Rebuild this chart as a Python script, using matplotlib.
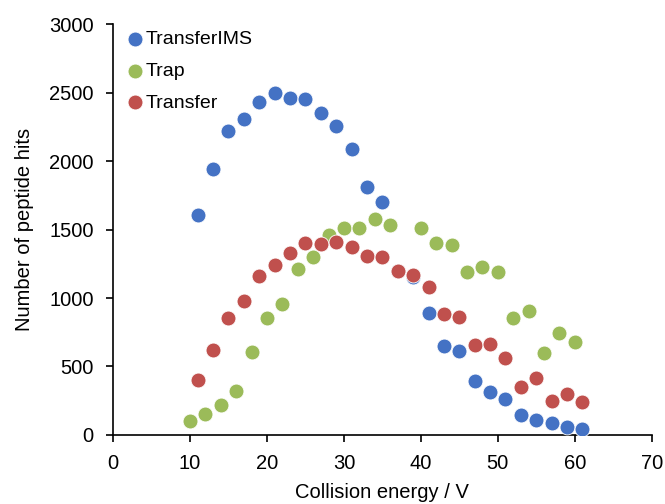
import matplotlib
matplotlib.use('Agg')
import matplotlib.pyplot as plt

plt.rcParams['font.family'] = ['Liberation Sans', 'DejaVu Sans']

# collision energy (V)
x_odd = [11, 13, 15, 17, 19, 21, 23, 25, 27, 29, 31, 33, 35,
         37, 39, 41, 43, 45, 47, 49, 51, 53, 55, 57, 59, 61]
x_trap = [10, 12, 14, 16, 18, 20, 22, 24, 26, 28, 30, 32, 34, 36,
          40, 42, 44, 46, 48, 50, 52, 54, 56, 58, 60]

transfer_ims = [1610, 1940, 2220, 2310, 2430, 2500, 2460, 2450, 2350, 2260, 2090, 1810, 1700,
                1200, 1150, 890, 650, 610, 395, 315, 262, 148, 110, 88, 60, 44]
trap = [100, 155, 220, 320, 605, 855, 955, 1210, 1300, 1460, 1510, 1510, 1575, 1530,
        1510, 1400, 1390, 1190, 1225, 1190, 855, 905, 600, 745, 680]
transfer = [400, 620, 855, 980, 1160, 1240, 1330, 1400, 1395, 1410, 1375, 1305, 1300,
            1195, 1170, 1080, 885, 860, 660, 665, 565, 350, 415, 250, 300, 240]

fig = plt.figure(figsize=(6.65, 5.04), dpi=100)
ax = fig.add_axes([0.17, 0.137, 0.81, 0.815])

ms = 115
ax.scatter(x_odd, transfer_ims, s=ms, c='#4472C4', edgecolors='white', linewidths=0.6, label='TransferIMS', zorder=3)
ax.scatter(x_trap, trap, s=ms, c='#9BBB59', edgecolors='white', linewidths=0.6, label='Trap', zorder=3)
ax.scatter(x_odd, transfer, s=ms, c='#C0504D', edgecolors='white', linewidths=0.6, label='Transfer', zorder=3)

ax.set_xlim(0, 70)
ax.set_ylim(0, 3000)
ax.set_xticks(range(0, 71, 10))
ax.set_yticks(range(0, 3001, 500))
ax.tick_params(labelsize=14.5, direction='out', length=5, width=1.2, colors='black')
ax.tick_params(axis='y', pad=9)
ax.tick_params(axis='x', pad=9)
ax.spines['top'].set_visible(False)
ax.spines['right'].set_visible(False)
ax.spines['left'].set_linewidth(1.2)
ax.spines['bottom'].set_linewidth(1.2)

ax.set_xlabel('Collision energy / V', fontsize=14.5, labelpad=7)
ax.set_ylabel('Number of peptide hits', fontsize=14.5, labelpad=11)

ax.legend(loc='upper left', frameon=False, fontsize=14, handletextpad=0.1, handlelength=0.9,
          markerscale=1.0, borderaxespad=0.0, labelspacing=0.72,
          bbox_to_anchor=(0.01, 1.003))

fig.savefig('out.png', dpi=100)
